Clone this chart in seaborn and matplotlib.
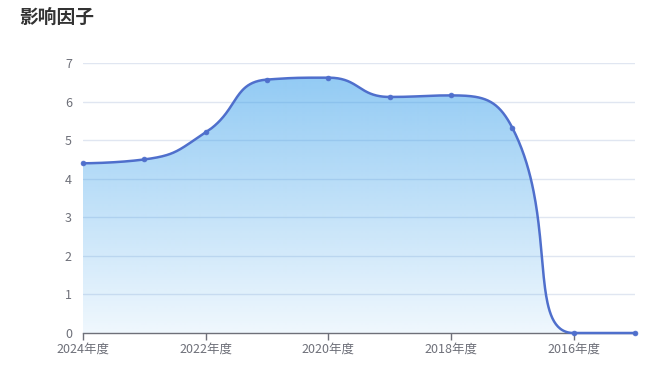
import numpy as np
import pandas as pd
import matplotlib
matplotlib.use("Agg")
import matplotlib.pyplot as plt
import seaborn as sns
from matplotlib.path import Path
from matplotlib.patches import PathPatch
from matplotlib.colors import LinearSegmentedColormap

categories = ["2024年度", "2023年度", "2022年度", "2021年度", "2020年度",
              "2019年度", "2018年度", "2017年度", "2016年度", "2015年度"]
values = [4.4, 4.5, 5.2, 6.57, 6.62, 6.12, 6.16, 5.32, 0.0, 0.0]
yticks = [0, 1, 2, 3, 4, 5, 6, 7]
title = "影响因子"

sns.set_theme(style="white")
plt.rcParams['font.family'] = ['Noto Sans CJK SC', 'DejaVu Sans']

W, H = 658, 366
fig = plt.figure(figsize=(W / 100, H / 100), dpi=100)
L, R, T, B = 83, 635, 63, 333
ax = fig.add_axes([L / W, 1 - B / H, (R - L) / W, (B - T) / H])

df = pd.DataFrame({"idx": np.arange(len(categories)), "val": values})
n = len(categories)

# pixel scale for echarts-like smoothing (with smooth constraint)
sx = (R - L) / (n - 1)
sy = (B - T) / 7.0
px = df["idx"].to_numpy() * sx
py = df["val"].to_numpy() * sy

smooth = 0.5
verts = [(px[0], py[0])]
cpx0, cpy0 = px[0], py[0]
for k in range(1, n):
    x, y = px[k], py[k]
    prevX, prevY = px[k - 1], py[k - 1]
    if k == n - 1:
        cpx1, cpy1 = x, y
        ncx, ncy = x, y
    else:
        nextX, nextY = px[k + 1], py[k + 1]
        vx, vy = nextX - prevX, nextY - prevY
        lp = np.hypot(x - prevX, y - prevY)
        ln = np.hypot(nextX - x, nextY - y)
        r = ln / (ln + lp)
        ncx = x + vx * smooth * r
        ncy = y + vy * smooth * r
        ncx = min(ncx, max(nextX, x)); ncy = min(ncy, max(nextY, y))
        ncx = max(ncx, min(nextX, x)); ncy = max(ncy, min(nextY, y))
        vx, vy = ncx - x, ncy - y
        cpx1 = x - vx * lp / ln
        cpy1 = y - vy * lp / ln
        cpx1 = min(cpx1, max(prevX, x)); cpy1 = min(cpy1, max(prevY, y))
        cpx1 = max(cpx1, min(prevX, x)); cpy1 = max(cpy1, min(prevY, y))
        vx, vy = x - cpx1, y - cpy1
        ncx = x + vx * ln / lp
        ncy = y + vy * ln / lp
    verts += [(cpx0, cpy0), (cpx1, cpy1), (x, y)]
    cpx0, cpy0 = ncx, ncy

curve = [verts[0]]
i = 1
while i < len(verts):
    p0 = np.array(verts[i - 1]); c1 = np.array(verts[i]); c2 = np.array(verts[i + 1]); p3 = np.array(verts[i + 2])
    t = np.linspace(0, 1, 80)[1:, None]
    seg = (1 - t) ** 3 * p0 + 3 * (1 - t) ** 2 * t * c1 + 3 * (1 - t) * t ** 2 * c2 + t ** 3 * p3
    curve.extend(seg.tolist())
    i += 3
curve = np.array(curve)
cx = curve[:, 0] / sx
cy = curve[:, 1] / sy

# grid lines
for yv in yticks[1:]:
    ax.axhline(yv, color="#e0e6f1", lw=1, zorder=0)

# gradient fill
poly = np.vstack([np.column_stack([cx, cy]), [[cx[-1], 0], [cx[0], 0]]])
patch = PathPatch(Path(poly), facecolor="none", edgecolor="none")
ax.add_patch(patch)
grad = np.linspace(0, 1, 256).reshape(-1, 1)
cmap = LinearSegmentedColormap.from_list(
    "g", [(58 / 255, 160 / 255, 235 / 255, 0.08), (58 / 255, 160 / 255, 235 / 255, 0.55)])
im = ax.imshow(grad, cmap=cmap, aspect="auto", origin="lower",
               extent=[0, n - 1, 0, max(values)], zorder=1, interpolation="bicubic")
im.set_clip_path(patch)

line_color = "#4f6fcc"
ax.plot(cx, cy, color=line_color, lw=1.8, zorder=3, solid_capstyle="round", clip_on=False)
sns.scatterplot(data=df, x="idx", y="val", ax=ax, color=line_color, s=12,
                edgecolor=line_color, linewidth=0.5, zorder=4, clip_on=False)

ax.set_xlim(0, n - 1)
ax.set_ylim(0, 7)

for s in ["top", "right", "left"]:
    ax.spines[s].set_visible(False)
ax.spines["bottom"].set_color("#6e7079")
ax.spines["bottom"].set_linewidth(1)
ax.spines["bottom"].set_zorder(2)

ax.set_xticks(list(range(0, n, 2)))
ax.set_xticklabels([categories[i] for i in range(0, n, 2)])
ax.set_yticks(yticks)
ax.set_yticklabels([str(v) for v in yticks])
ax.tick_params(axis="x", colors="#6e7079", length=5, width=1, direction="out",
               pad=2, labelsize=9, bottom=True)
ax.tick_params(axis="y", colors="#6e7079", length=0, pad=8, labelsize=9)
ax.set_xlabel("")
ax.set_ylabel("")
ax.grid(False)

fig.text(19 / W, 1 - 17 / H, title, fontsize=13.5, fontweight="bold", color="#333333",
         ha="left", va="center")

fig.savefig("out.png", dpi=100, facecolor="white")
